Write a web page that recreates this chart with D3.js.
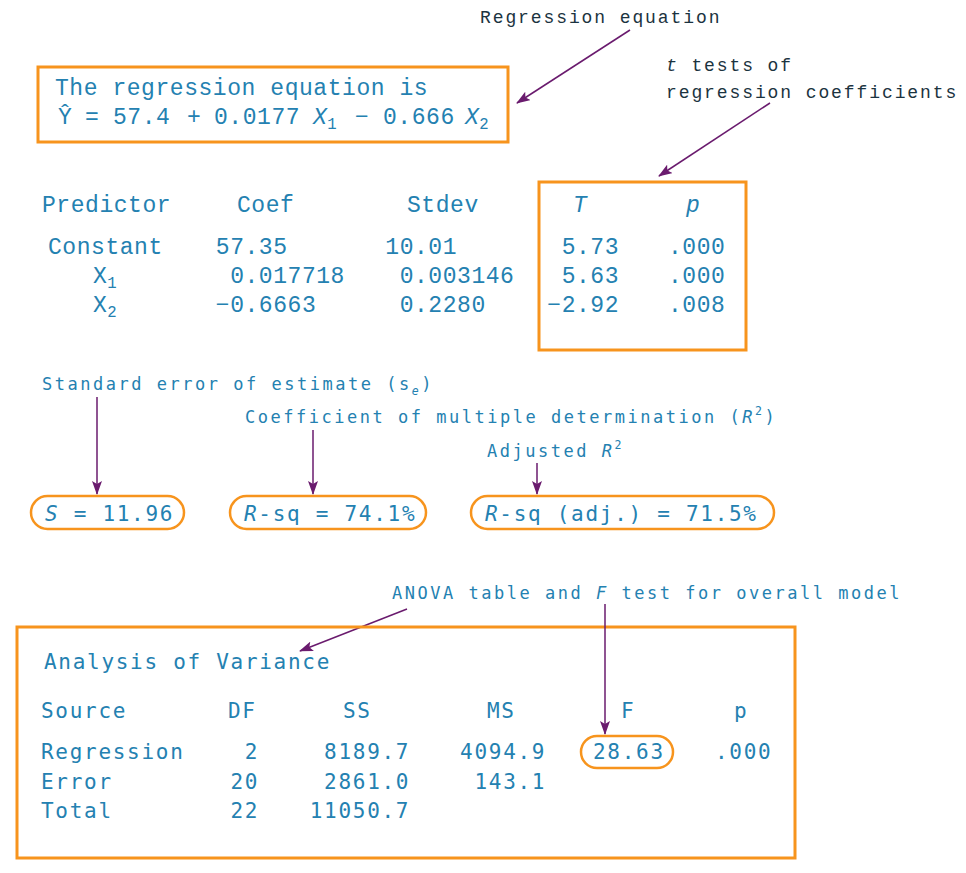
<!DOCTYPE html>
<html><head><meta charset="utf-8">
<script src="https://cdn.jsdelivr.net/npm/d3@7"></script>
<style>
html,body{margin:0;padding:0;background:#fff;}
svg{display:block;}
</style></head>
<body>
<script>
// ---------- data ----------
const eqIntercept = "57.4";
const eqCoefs = ["0.0177", "0.666"];
const eqSigns = ["+", "−"];
const predictors = ["Constant", "X1", "X2"];
const coef = ["57.35", "0.017718", "−0.6663"];
const stdev = ["10.01", "0.003146", "0.2280"];
const tStat = ["5.73", "5.63", "−2.92"];
const pVal = [".000", ".000", ".008"];
const summaryLabels = ["S", "R-sq", "R-sq (adj.)"];
const summaryValues = ["11.96", "74.1%", "71.5%"];
const anovaSources = ["Regression", "Error", "Total"];
const anovaDF = ["2", "20", "22"];
const anovaSS = ["8189.7", "2861.0", "11050.7"];
const anovaMS = ["4094.9", "143.1", ""];
const anovaF = ["28.63", "", ""];
const anovaP = [".000", "", ""];

// ---------- styles ----------
const BLUE = "#2481b1", DARK = "#1b3340", ORANGE = "#f7941d", PURPLE = "#6a1b6e";
const WIDE = {family: "Liberation Mono", size: 23, adv: 14.35};
const MAIN = {family: "DejaVu Sans Mono", size: 21, adv: 14.35};
const COND = {family: "DejaVu Sans Mono", size: 17, adv: 12.75};
const NOTE = {family: "Liberation Mono", size: 18, adv: 12.7};
function ls(f) { return f.adv - f.size * (f.family === "Liberation Mono" ? 0.6 : 0.602); }

const W = 966, H = 873;
const svg = d3.select("body").append("svg").attr("width", W).attr("height", H);
svg.append("defs").append("marker")
  .attr("id", "ah").attr("viewBox", "0 0 14 10").attr("refX", 13).attr("refY", 5)
  .attr("markerWidth", 14).attr("markerHeight", 10).attr("markerUnits", "userSpaceOnUse")
  .attr("orient", "auto")
  .append("path").attr("d", "M0,0 L14,5 L0,10 L3,5 Z").attr("fill", PURPLE);

function rich(x, y, parts, font, color) {
  const t = svg.append("text").attr("x", x).attr("y", y)
    .attr("font-family", font.family).attr("font-size", font.size)
    .attr("letter-spacing", ls(font)).attr("fill", color).attr("xml:space", "preserve");
  let shift = 0;
  parts.forEach(p => {
    if (typeof p === "string") p = {t: p};
    const s = t.append("tspan").text(p.t);
    if (p.x !== undefined) s.attr("x", p.x);
    if (p.i) s.attr("font-style", "italic");
    let target = p.sub ? 5 : p.sup ? -8 : 0;
    if (target !== shift) { s.attr("dy", target - shift); shift = target; }
    if (p.sub || p.sup) s.attr("font-size", font.size * 0.68);
  });
  return t;
}
function arrow(x1, y1, x2, y2) {
  svg.append("line").attr("x1", x1).attr("y1", y1).attr("x2", x2).attr("y2", y2)
    .attr("stroke", PURPLE).attr("stroke-width", 1.5).attr("marker-end", "url(#ah)");
}
function box(x, y, w, h, r) {
  svg.append("rect").attr("x", x).attr("y", y).attr("width", w).attr("height", h)
    .attr("rx", r || 0).attr("fill", "none").attr("stroke", ORANGE).attr("stroke-width", r ? 2.5 : 3);
}
function decimalX(s, dx, font) {
  const i = s.indexOf(".") < 0 ? s.length : s.indexOf(".");
  return dx - i * font.adv;
}
function rightX(s, rx, font) { return rx - s.length * font.adv + ls(font) + 1.5; }

// ---------- regression equation ----------
rich(480, 23, ["Regression equation"], NOTE, DARK);
arrow(630, 30, 517, 103);
box(38, 67, 470, 75);
rich(55, 95, ["The regression equation is"], WIDE, BLUE);
rich(58, 124, [
  {t: "Ŷ"}, {t: "=", x: 85}, {t: eqIntercept, x: 113}, {t: eqSigns[0], x: 187},
  {t: eqCoefs[0], x: 214}, {t: "X", i: true, x: 313}, {t: "1", sub: true},
  {t: eqSigns[1], x: 355}, {t: eqCoefs[1], x: 383}, {t: "X", i: true, x: 465}, {t: "2", sub: true}
], WIDE, BLUE);

// ---------- coefficient table ----------
rich(666, 71, [{t: "t", i: true}, " tests of"], NOTE, DARK);
rich(666, 98, ["regression coefficients"], NOTE, DARK);
arrow(770, 103, 659, 176);
box(539, 182, 207, 168);

const hY = 212;
rich(42, hY, ["Predictor"], WIDE, BLUE);
rich(237, hY, ["Coef"], WIDE, BLUE);
rich(407, hY, ["Stdev"], WIDE, BLUE);
rich(573, hY, [{t: "T", i: true}], WIDE, BLUE);
rich(686, hY, [{t: "p", i: true}], WIDE, BLUE);

const yPred = d3.scalePoint().domain(predictors).range([254, 312]);
predictors.forEach((p, i) => {
  const y = yPred(p);
  if (p === "Constant") rich(48, y, [p], WIDE, BLUE);
  else rich(93, y, [p[0], {t: p.slice(1), sub: true}], WIDE, BLUE);
  rich(decimalX(coef[i], 244.5, WIDE), y, [coef[i]], WIDE, BLUE);
  rich(decimalX(stdev[i], 414, WIDE), y, [stdev[i]], WIDE, BLUE);
  rich(decimalX(tStat[i], 576, WIDE), y, [tStat[i]], WIDE, BLUE);
  rich(decimalX(pVal[i], 668, WIDE), y, [pVal[i]], WIDE, BLUE);
});

// ---------- summary statistics ----------
rich(42, 390, ["Standard error of estimate (s", {t: "e", sub: true, i: true}, {t: ")"}], COND, BLUE);
arrow(97, 397, 97, 494);
rich(245, 423, ["Coefficient of multiple determination (", {t: "R", i: true}, {t: "2", sup: true}, {t: ")"}], COND, BLUE);
arrow(313, 430, 313, 494);
rich(487, 457, ["Adjusted ", {t: "R", i: true}, {t: "2", sup: true}], COND, BLUE);
arrow(537, 463, 537, 494);

const pills = [[31, 153], [230, 196], [471, 303]];
summaryLabels.forEach((lab, i) => {
  box(pills[i][0], 496, pills[i][1], 33, 16.5);
  const parts = lab === "S" ? [{t: "S", i: true}] :
    [{t: "R", i: true}, {t: lab.slice(1)}];
  parts.push({t: " = " + summaryValues[i]});
  rich(pills[i][0] + 14, 521, parts, MAIN, BLUE);
});

// ---------- ANOVA ----------
rich(392, 599, ["ANOVA table and ", {t: "F", i: true}, {t: " test for overall model"}], COND, BLUE);
arrow(407, 609, 300, 651);
box(17, 627, 778, 231);
arrow(605, 604, 605, 734);
rich(44, 669, ["Analysis of Variance"], MAIN, BLUE);

const aH = 718;
rich(41, aH, ["Source"], MAIN, BLUE);
rich(228, aH, ["DF"], MAIN, BLUE);
rich(343, aH, ["SS"], MAIN, BLUE);
rich(487, aH, ["MS"], MAIN, BLUE);
rich(621, aH, ["F"], MAIN, BLUE);
rich(734, aH, ["p"], MAIN, BLUE);

const yA = d3.scalePoint().domain(anovaSources).range([759, 818]);
anovaSources.forEach((s, i) => {
  const y = yA(s);
  rich(41, y, [s], MAIN, BLUE);
  rich(rightX(anovaDF[i], 256, MAIN), y, [anovaDF[i]], MAIN, BLUE);
  rich(rightX(anovaSS[i], 407, MAIN), y, [anovaSS[i]], MAIN, BLUE);
  if (anovaMS[i]) rich(rightX(anovaMS[i], 543, MAIN), y, [anovaMS[i]], MAIN, BLUE);
  if (anovaF[i]) {
    box(581, y - 23, 92, 32, 16);
    rich(593, y, [anovaF[i]], MAIN, BLUE);
  }
  if (anovaP[i]) rich(715, y, [anovaP[i]], MAIN, BLUE);
});
</script>
</body></html>
